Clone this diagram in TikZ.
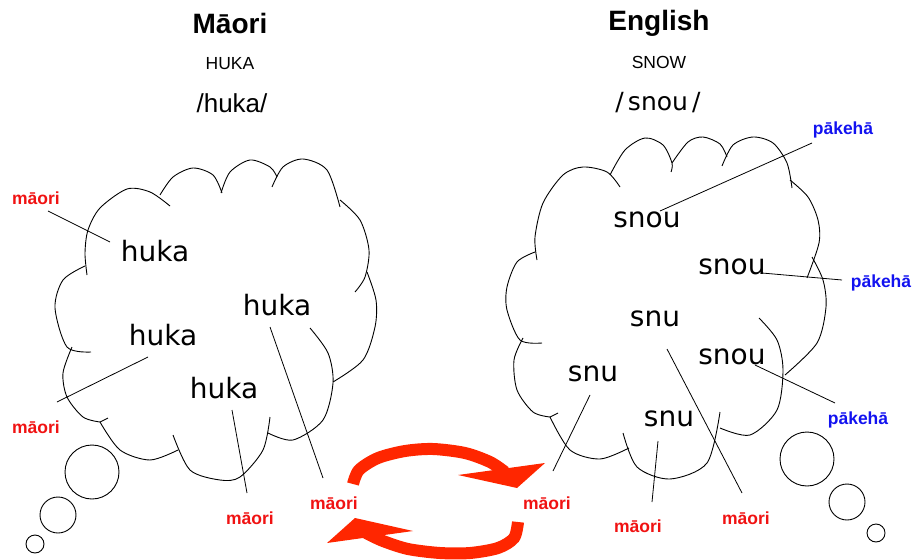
\documentclass[tikz,border=0pt]{standalone}
\usepackage{fontspec}
\setmainfont{Liberation Sans}
\newfontfamily\lucida{DejaVu Sans}
\definecolor{arrred}{RGB}{255,38,0}
\definecolor{lblred}{RGB}{240,18,18}
\definecolor{lblblue}{RGB}{18,18,240}
\begin{document}
\begin{tikzpicture}[x=1pt,y=-1pt,
  lobe/.style={draw=black,line width=0.9pt},
  word/.style={font=\lucida\fontsize{28}{30}\selectfont,inner sep=0pt},
  redlbl/.style={text=lblred,font=\bfseries\fontsize{17.5}{19}\selectfont,inner sep=0pt},
  bluelbl/.style={text=lblblue,font=\bfseries\fontsize{17.5}{19}\selectfont,inner sep=0pt},
  pointer/.style={draw=black,line width=0.8pt},
  bubble/.style={draw=black,line width=0.9pt,circle,inner sep=0pt},
  band/.style={draw=arrred,line width=12pt},
  head/.style={fill=arrred,draw=none},
  title/.style={font=\bfseries\fontsize{28}{30}\selectfont,inner sep=0pt},
  caps/.style={font=\fontsize{17.5}{19}\selectfont,inner sep=0pt}]
\useasboundingbox (0,0) rectangle (912,559);

% titles
\node[title] (tm) at (230,23) {Māori};
\node[title] (te) at (659,23) {English};
\node[caps] (hm) at (230,64) {HUKA};
\node[caps] (he) at (659,62) {SNOW};
\node[font=\fontsize{26}{28}\selectfont,inner sep=0pt] (pm) at (232,103) {/huka/};
\node[font=\lucida\fontsize{25}{28}\selectfont,inner sep=0pt] (pe) at (658,103) {/\,snou\,/};

% left cloud
\draw[lobe] plot[smooth] coordinates {(87,275) (85,253) (88,230) (100,208) (127,189) (150,192) (170,206)};
\draw[lobe] plot[smooth] coordinates {(160,195) (173,177) (193,168) (213,175) (222,193)};
\draw[lobe] plot[smooth] coordinates {(221,193) (230,172) (250,160) (270,167) (277,177)};
\draw[lobe] plot[smooth] coordinates {(272,187) (283,167) (303,159) (327,170) (340,207)};
\draw[lobe] plot[smooth] coordinates {(340,200) (360,220) (369,250) (365,277) (355,292)};
\draw[lobe] plot[smooth] coordinates {(367,272) (376,300) (375,327) (363,360) (333,382)};
\draw[lobe] plot[smooth] coordinates {(310,328) (328,353) (333,383) (323,420) (293,440) (268,433)};
\draw[lobe] plot[smooth] coordinates {(270,417) (263,450) (240,477) (220,480) (190,470) (173,435)};
\draw[lobe] plot[smooth] coordinates {(178,450) (150,460) (120,450) (100,422)};
\draw[lobe] (100,422) -- (108,418);
\draw[lobe] plot[smooth] coordinates {(72,347) (63,373) (67,397) (83,417) (100,422)};
\draw[lobe] plot[smooth] coordinates {(91,352) (67,347) (55,308) (63,280) (85,266)};

% left bubbles
\node[bubble,minimum size=54pt] (lb1) at (92,472) {};
\node[bubble,minimum size=36pt] (lb2) at (58,515) {};
\node[bubble,minimum size=18pt] (lb3) at (35,544) {};

% right cloud
\draw[lobe] plot[smooth] coordinates {(537,260) (535,237) (543,203) (563,175) (583,167) (607,172) (620,187)};
\draw[lobe] plot[smooth] coordinates {(610,175) (625,150) (645,138) (663,145) (672,163) (671,172)};
\draw[lobe] plot[smooth] coordinates {(672,163) (688,142) (703,137) (720,144) (727,157)};
\draw[lobe] plot[smooth] coordinates {(722,166) (733,145) (753,137) (773,143) (787,163) (792,188)};
\draw[lobe] plot[smooth] coordinates {(790,180) (808,197) (818,220) (819,243) (807,278)};
\draw[lobe] plot[smooth] coordinates {(812,257) (823,280) (826,307) (817,343) (785,375)};
\draw[lobe] plot[smooth] coordinates {(759,318) (777,340) (783,370) (777,410) (750,435) (720,428)};
\draw[lobe] plot[smooth] coordinates {(720,412) (707,463) (670,479) (637,467) (623,433)};
\draw[lobe] plot[smooth] coordinates {(629,448) (600,459) (570,450) (550,417)};
\draw[lobe] (550,417) -- (558,413);
\draw[lobe] plot[smooth] coordinates {(523,338) (514,360) (517,390) (533,412) (550,417)};
\draw[lobe] plot[smooth] coordinates {(542,343) (520,340) (507,310) (507,287) (517,262) (535,252)};

% right bubbles
\node[bubble,minimum size=54pt] (rb1) at (807,459) {};
\node[bubble,minimum size=36pt] (rb2) at (847,502) {};
\node[bubble,minimum size=18pt] (rb3) at (876,533) {};

% words left
\node[word] (h1) at (155,251) {huka};
\node[word] (h2) at (277,305) {huka};
\node[word] (h3) at (163,335) {huka};
\node[word] (h4) at (224,388) {huka};

% words right
\node[word] (s1) at (647,220) {snou};
\node[word] (s2) at (732,267) {snou};
\node[word] (s3) at (655,319) {snu};
\node[word] (s4) at (732,357) {snou};
\node[word] (s5) at (593,374) {snu};
\node[word] (s6) at (669,419) {snu};

% labels
\node[redlbl] (m1) at (36,198) {māori};
\node[redlbl] (m2) at (36,427) {māori};
\node[redlbl] (m3) at (250,518) {māori};
\node[redlbl] (m4) at (334,503) {māori};
\node[redlbl] (m5) at (547,503) {māori};
\node[redlbl] (m6) at (638,526) {māori};
\node[redlbl] (m7) at (746,518) {māori};
\node[bluelbl] (p1) at (843,130) {pākehā};
\node[bluelbl] (p2) at (881,283) {pākehā};
\node[bluelbl] (p3) at (858,420) {pākehā};

% pointer end points
\coordinate (a1) at (48,211);  \coordinate (b1) at (110,242);
\coordinate (a2) at (57,402);  \coordinate (b2) at (148,357);
\coordinate (a3) at (247,493); \coordinate (b3) at (232,410);
\coordinate (a4) at (323,478); \coordinate (b4) at (270,327);
\coordinate (a5) at (812,143); \coordinate (b5) at (660,211);
\coordinate (a6) at (842,280); \coordinate (b6) at (762,273);
\coordinate (a7) at (835,403); \coordinate (b7) at (755,365);
\coordinate (a8) at (742,493); \coordinate (b8) at (667,349);
\coordinate (a9) at (553,471); \coordinate (b9) at (590,395);
\coordinate (a10) at (652,502); \coordinate (b10) at (658,441);
\foreach \i in {1,...,10} {\draw[pointer] (a\i) -- (b\i);}

% red exchange arrows
\coordinate (u0) at (353,484);
\coordinate (u1) at (505,472);
\draw[band] plot[smooth] coordinates {(u0) (359,470) (378,458) (405,451) (433,449) (465,453) (490,462) (u1)};
\fill[head] (458,475) -- (545,463) -- (517,488) -- cycle;
\coordinate (d0) at (518,522);
\coordinate (d1) at (366,533);
\draw[band] plot[smooth] coordinates {(d0) (514,538) (498,548) (470,553) (440,553) (408,549) (383,541) (d1)};
\fill[head] (355,518) -- (413,531) -- (327,543) -- cycle;
\end{tikzpicture}
\end{document}
